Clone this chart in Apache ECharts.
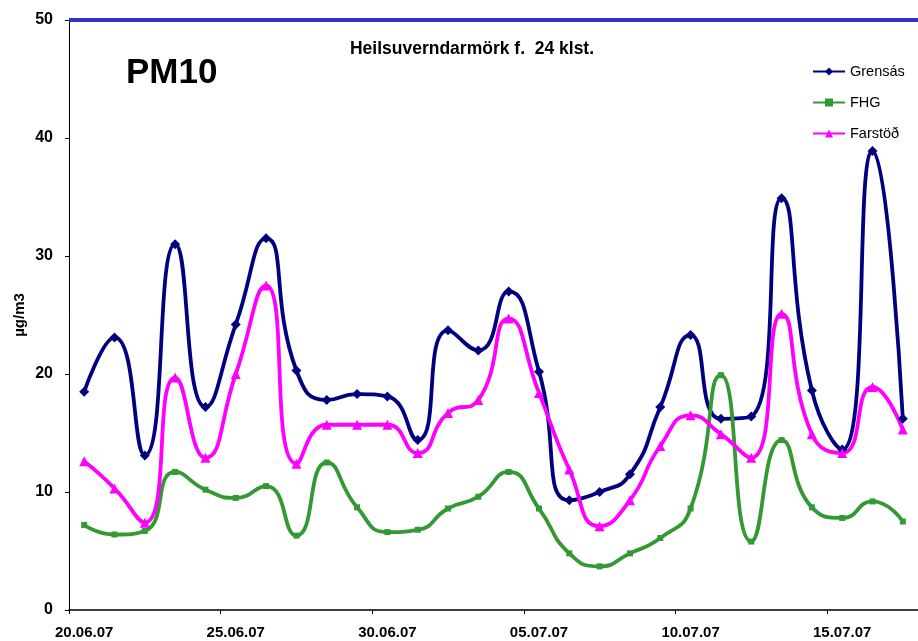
<!DOCTYPE html>
<html><head><meta charset="utf-8">
<script src="https://cdn.jsdelivr.net/npm/echarts@6/dist/echarts.min.js"></script>
<style>html,body{margin:0;padding:0;background:#fff}#c{width:918px;height:641px}</style>
</head><body><div id="c"></div>
<script>
var dates = ['20.06.07','21.06.07','22.06.07','23.06.07','24.06.07','25.06.07','26.06.07','27.06.07','28.06.07','29.06.07',
  '30.06.07','01.07.07','02.07.07','03.07.07','04.07.07','05.07.07','06.07.07','07.07.07','08.07.07','09.07.07',
  '10.07.07','11.07.07','12.07.07','13.07.07','14.07.07','15.07.07','16.07.07','17.07.07'];
var grensas = [18.5,23.1,13.1,31.0,17.2,24.2,31.5,20.3,17.8,18.3,18.1,14.4,23.7,22.0,27.0,20.2,9.3,10.0,11.5,17.2,23.3,16.2,16.4,34.9,18.6,13.6,38.9,16.2];
var fhg = [7.2,6.4,6.7,11.7,10.2,9.5,10.5,6.3,12.5,8.7,6.6,6.8,8.6,9.6,11.7,8.6,4.8,3.7,4.8,6.1,8.6,19.9,5.8,14.4,8.7,7.8,9.2,7.5];
var farstod = [12.6,10.3,7.4,19.7,12.9,20.0,27.5,12.4,15.7,15.7,15.7,13.3,16.7,17.8,24.7,18.4,11.9,7.1,9.3,13.9,16.5,14.9,12.9,25.1,14.9,13.3,18.9,15.3];
var yTicks = [0,10,20,30,40,50];
var limit = 50;

var chart = echarts.init(document.getElementById('c'));
var font = 'Arial, "Liberation Sans", sans-serif';
function ser(name, data, color, symbol, size) {
  return {name:name, type:'line', data:data, smooth:0.55, symbol:symbol, symbolSize:size, showSymbol:true,
    lineStyle:{color:color, width:3.8}, itemStyle:{color:color}, z:3};
}
var s1 = ser('Grensás', grensas, '#000080', 'diamond', 10);
var s2 = ser('FHG', fhg, '#339933', 'rect', 6);
var s3 = ser('Farstöð', farstod, '#FF00FF', 'triangle', 10);
s1.markLine = {silent:true, symbol:'none', label:{show:false},
  lineStyle:{color:'#3333CC', width:4, type:'solid'}, data:[{yAxis:limit}]};
chart.setOption({
  animation:false,
  textStyle:{fontFamily:font},
  title:[
    {text:'PM10', left:121, top:51, textStyle:{fontSize:35, fontWeight:'bold', color:'#000', fontFamily:font}},
    {text:'Heilsuverndarmörk f.  24 klst.', left:467, top:35, textAlign:'center', textStyle:{fontSize:17.5, fontWeight:'bold', color:'#000', fontFamily:font}}
  ],
  legend:{orient:'vertical', left:807, top:59, itemWidth:32, itemHeight:10, itemGap:16,
    textStyle:{fontSize:14.5, color:'#000', fontFamily:font}, data:['Grensás','FHG','Farstöð']},
  grid:{left:69, right:-3, top:20, bottom:31, containLabel:false},
  xAxis:{type:'category', data:dates, boundaryGap:true,
    axisLine:{lineStyle:{color:'#000', width:1.5}},
    axisTick:{show:true, interval:4, length:4, lineStyle:{color:'#000'}},
    axisLabel:{interval:4, fontSize:15, fontWeight:'bold', color:'#000', margin:15, fontFamily:font},
    splitLine:{show:false}},
  yAxis:{type:'value', min:0, max:50, interval:10,
    name:'µg/m3', nameLocation:'middle', nameGap:42, nameRotate:90, nameMoveOverlap:false,
    nameTextStyle:{fontSize:15, fontWeight:'bold', color:'#000', fontFamily:font},
    axisLine:{show:true, lineStyle:{color:'#000'}},
    axisTick:{show:true, length:4, lineStyle:{color:'#000'}},
    axisLabel:{fontSize:16, fontWeight:'bold', color:'#000', margin:16, fontFamily:font},
    splitLine:{show:false}},
  series:[s1, s2, s3]
});
</script></body></html>
